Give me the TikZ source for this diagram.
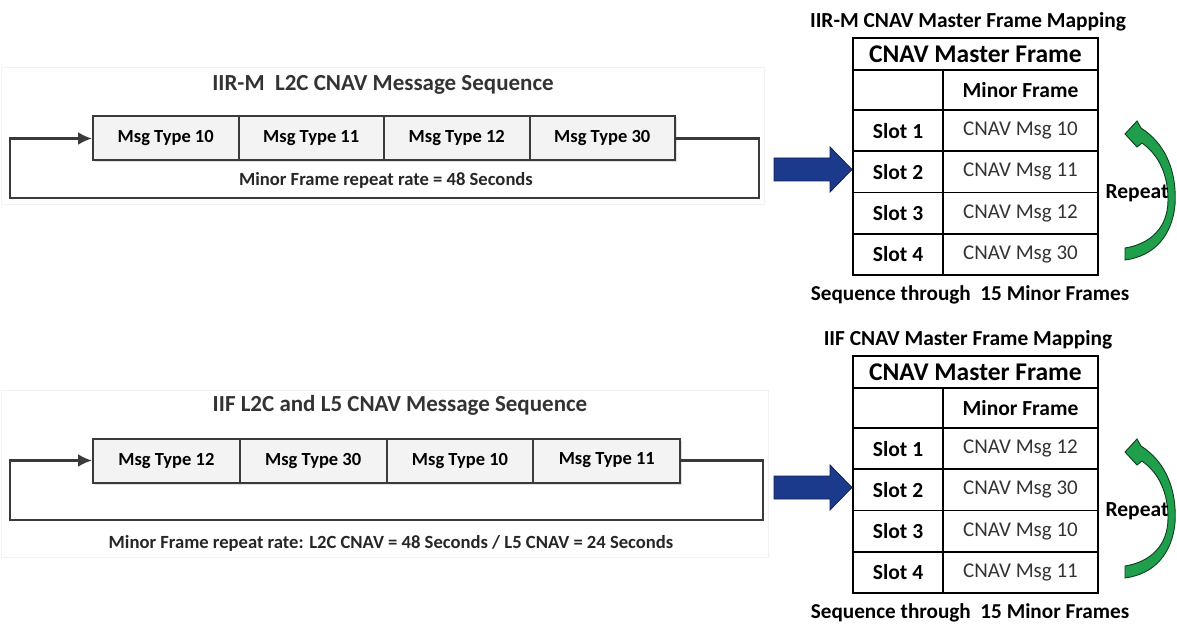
\documentclass[tikz,border=0pt]{standalone}
\usepackage{fontspec}
\setmainfont{Carlito}
\usetikzlibrary{positioning,arrows.meta,shadows}

\definecolor{boxline}{HTML}{3A3A3A}
\definecolor{boxfill}{HTML}{F3F3F3}
\definecolor{navyblue}{HTML}{1B3A8C}
\definecolor{repgreen}{HTML}{1F9E4B}
\definecolor{msgtext}{HTML}{333333}

\tikzset{
  msgbox/.style={draw=boxline, line width=2pt, fill=boxfill, minimum height=44pt,
    inner sep=0pt, font=\fontsize{18.5}{20}\selectfont\bfseries,
    drop shadow={shadow xshift=1.5pt, shadow yshift=-2pt, opacity=0.25}},
  loopline/.style={draw=boxline, line width=2.5pt, -{Latex[length=14pt,width=13pt]}},
  cell/.style={draw=black, line width=1.8pt, inner sep=0pt, font=\fontsize{21}{23}\selectfont},
  titletext/.style={font=\fontsize{23}{25}\selectfont\bfseries, text=black!80},
  ratetext/.style={font=\fontsize{18.6}{20}\selectfont\bfseries, text=black!85},
}

\begin{document}
\begin{tikzpicture}[x=1pt,y=-1pt]
  \useasboundingbox (0,0) rectangle (1177,628);

  % faint panel frames
  \draw[black!5, line width=1pt] (1,68) rectangle (764,205);
  \draw[black!5, line width=1pt] (1,390) rectangle (768,557);

  % IIR-M sequence
  \node[titletext] (ttl1) at (383,85) {IIR-M\ \ L2C CNAV Message Sequence};
  \foreach \t [count=\i] in {10,11,12,30}
    \node[msgbox, minimum width=145.5pt] (a\i) at ({93+145.5*(\i-0.5)},138.5) {Msg Type \t};
  \coordinate (ar) at (759,198);
  \coordinate (al) at (10,198);
  \draw[loopline] (a4.east) -| (ar) -- (al) |- (a1.west);
  \node[ratetext] (rate1) at (386,180) {Minor Frame repeat rate = 48 Seconds};

  % IIF sequence
  \node[titletext] (ttl2) at (400,405) {IIF L2C and L5 CNAV Message Sequence};
  \foreach \t [count=\i] in {12,30,10,11}
    \node[msgbox, minimum width=146.8pt] (b\i) at ({93+146.8*(\i-0.5)},460.5) {Msg Type \t};
  \coordinate (br) at (763,520);
  \coordinate (bl) at (10,520);
  \draw[loopline] (b4.east) -| (br) -- (bl) |- (b1.west);
  \node[ratetext] (rate2) at (391,543)
    {Minor Frame repeat rate: L2C CNAV = 48 Seconds / L5 CNAV = 24 Seconds};

  % master frame mappings
  \foreach \k/\dy/\sat/\msgs in {1/0/IIR-M/{10,11,12,30}, 2/318/IIF/{12,30,10,11}}{
    \begin{scope}[yshift=-\dy pt]
      \node[font=\fontsize{21.4}{23}\selectfont\bfseries] (mt\k) at (968,22) {\sat{} CNAV Master Frame Mapping};
      \node[cell, minimum width=245pt, minimum height=32pt, font=\fontsize{25.5}{27}\selectfont\bfseries]
        (h\k) at (975.5,54) {CNAV Master Frame};
      \node[cell, minimum width=90pt, minimum height=40pt] (e\k) at (898,90) {};
      \node[cell, minimum width=155pt, minimum height=40pt, font=\fontsize{21.5}{23}\selectfont\bfseries]
        (mf\k) at (1020.5,90) {Minor Frame};
      \foreach \m [count=\j] in \msgs {
        \node[cell, minimum width=90pt, minimum height=41.25pt, font=\fontsize{21.5}{23}\selectfont\bfseries]
          (s\k-\j) at (898,{110+41.25*(\j-0.5)}) {Slot \j};
        \node[cell, minimum width=155pt, minimum height=41.25pt, text=msgtext]
          (c\k-\j) at (1020.5,{110+41.25*(\j-0.5)}) {CNAV Msg \m};
      }
      \node[font=\fontsize{21.2}{23}\selectfont\bfseries] (sq\k) at (970,295) {Sequence through\ \ 15 Minor Frames};
      % block arrow into slot 2
      \fill[navyblue, draw=navyblue!60!black, line width=0.8pt]
        (774,158) -- (830,158) -- (830,147) -- (852,169.5) -- (830,192) -- (830,181) -- (774,181) -- cycle;
      % curved repeat arrow
      \fill[repgreen, draw=repgreen!40!black, line width=0.9pt]
        (1141,128) .. controls (1166,144) and (1177,172) .. (1175,205)
        .. controls (1172,235) and (1155,256) .. (1125,260) -- (1125,248)
        .. controls (1150,244) and (1168,228) .. (1168,200)
        .. controls (1168,176) and (1160,156) .. (1142,143)
        -- (1137,147) -- (1125,134) -- (1137,121) -- cycle;
      \node[font=\fontsize{21.5}{23}\selectfont\bfseries] (rp\k) at (1137,193) {Repeat};
    \end{scope}
  }
\end{tikzpicture}
\end{document}
